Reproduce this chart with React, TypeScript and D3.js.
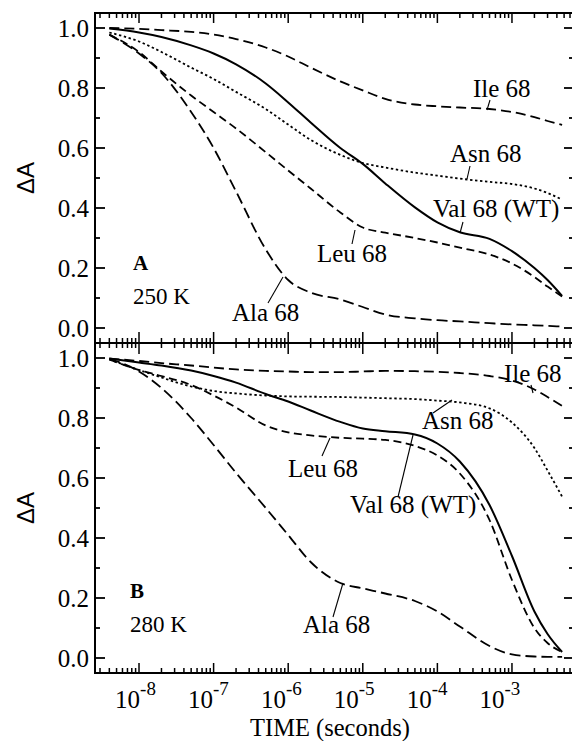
import React from 'react';
import * as d3 from 'd3';

// ---- data (time in seconds, ΔA) ----
const times = [4e-9, 1e-8, 2e-8, 5e-8, 1e-7, 2e-7, 5e-7, 1e-6, 2e-6, 5e-6, 1e-5, 2e-5, 5e-5, 1e-4, 2e-4, 5e-4, 1e-3, 2e-3, 3e-3, 4.7e-3];

// Panel A, 250 K
const ileA = [1.0, 0.997, 0.993, 0.987, 0.978, 0.963, 0.935, 0.905, 0.868, 0.822, 0.792, 0.764, 0.745, 0.739, 0.735, 0.73, 0.72, 0.703, 0.69, 0.677];
const asnA = [0.985, 0.955, 0.92, 0.868, 0.83, 0.787, 0.73, 0.678, 0.627, 0.577, 0.55, 0.535, 0.518, 0.508, 0.498, 0.487, 0.48, 0.465, 0.45, 0.428];
const valA = [0.998, 0.985, 0.97, 0.942, 0.915, 0.879, 0.815, 0.752, 0.685, 0.6, 0.547, 0.482, 0.402, 0.352, 0.319, 0.297, 0.256, 0.2, 0.16, 0.107];
const leuA = [0.978, 0.92, 0.855, 0.775, 0.72, 0.665, 0.586, 0.525, 0.465, 0.385, 0.335, 0.318, 0.3, 0.285, 0.268, 0.245, 0.215, 0.17, 0.138, 0.105];
const alaA = [0.978, 0.915, 0.85, 0.72, 0.6, 0.455, 0.262, 0.16, 0.118, 0.095, 0.07, 0.045, 0.032, 0.026, 0.022, 0.016, 0.012, 0.009, 0.007, 0.005];

// Panel B, 280 K
const ileB = [0.998, 0.99, 0.983, 0.975, 0.968, 0.962, 0.957, 0.955, 0.953, 0.953, 0.955, 0.957, 0.956, 0.954, 0.95, 0.94, 0.925, 0.895, 0.87, 0.84];
const asnB = [0.995, 0.96, 0.935, 0.905, 0.89, 0.882, 0.875, 0.872, 0.871, 0.87, 0.868, 0.866, 0.863, 0.858, 0.852, 0.832, 0.785, 0.7, 0.625, 0.538];
const valB = [0.998, 0.985, 0.975, 0.958, 0.94, 0.918, 0.88, 0.855, 0.825, 0.787, 0.765, 0.756, 0.745, 0.715, 0.655, 0.51, 0.34, 0.155, 0.08, 0.02];
const leuB = [0.995, 0.96, 0.94, 0.91, 0.875, 0.835, 0.775, 0.752, 0.742, 0.734, 0.731, 0.727, 0.707, 0.675, 0.615, 0.46, 0.26, 0.1, 0.05, 0.02];
const alaB = [0.998, 0.955, 0.9, 0.8, 0.71, 0.617, 0.5, 0.41, 0.32, 0.25, 0.232, 0.215, 0.19, 0.155, 0.105, 0.04, 0.012, 0.005, 0.004, 0.004];

const yTickValues = [0, 0.2, 0.4, 0.6, 0.8, 1.0];
const xLabelExponents = [-8, -7, -6, -5, -4, -3];

const seriesNames = ['Ile 68', 'Asn 68', 'Val 68 (WT)', 'Leu 68', 'Ala 68'];

// ---- styling ----
const dashes: Record<string, string | undefined> = {
  'Ile 68': '10,5',
  'Asn 68': '2.4,2.6',
  'Val 68 (WT)': undefined,
  'Leu 68': '8,4.5',
  'Ala 68': '11,5',
};

const W = 572, H = 741;
const X0 = 95, X1 = 573;
const SERIF = "'Liberation Serif', 'Times New Roman', Times, serif";
const SANS = "'Liberation Sans', Arial, sans-serif";

const x = d3.scaleLog().domain([2.57e-9, 6.58e-3]).range([X0, X1]);

type Label = { text: string; tx: number; ty: number; a: [number, number]; b: [number, number] };

const panels = [
  {
    top: 13, bottom: 343, letter: 'A', temp: '250 K', lx: 133, ly: 270,
    values: [ileA, asnA, valA, leuA, alaA],
    labels: [
      { text: 'Ile 68', tx: 473, ty: 97, a: [490, 100], b: [487, 110] },
      { text: 'Asn 68', tx: 450, ty: 162, a: [470, 166], b: [467, 179] },
      { text: 'Val 68 (WT)', tx: 433, ty: 217, a: [463, 222], b: [460, 233] },
      { text: 'Leu 68', tx: 317, ty: 262, a: [352, 244], b: [355, 230] },
      { text: 'Ala 68', tx: 232, ty: 321, a: [268, 303], b: [283, 277] },
    ] as Label[],
  },
  {
    top: 343, bottom: 673, letter: 'B', temp: '280 K', lx: 130, ly: 598,
    values: [ileB, asnB, valB, leuB, alaB],
    labels: [
      { text: 'Ile 68', tx: 504, ty: 382, a: [531, 385], b: [533, 393] },
      { text: 'Asn 68', tx: 422, ty: 429, a: [433, 413], b: [452, 400] },
      { text: 'Val 68 (WT)', tx: 350, ty: 513, a: [398, 497], b: [413, 435] },
      { text: 'Leu 68', tx: 288, ty: 477, a: [322, 456], b: [330, 438] },
      { text: 'Ala 68', tx: 303, ty: 633, a: [333, 617], b: [343, 583] },
    ] as Label[],
  },
];

export default function App() {
  const allTicks = x.ticks(10);
  const isMajor = (t: number) => Math.abs(Math.log10(t) - Math.round(Math.log10(t))) < 1e-6;
  const yMinor = d3.range(0, 11).map((i) => i / 10);
  const serif = { fontFamily: SERIF };

  return (
    <svg width={W} height={H} viewBox={`0 0 ${W} ${H}`}
      style={{ position: 'absolute', left: 0, top: 0, display: 'block', background: '#fff' }}>
      <rect x={0} y={0} width={W} height={H} fill="#fff" />
      {panels.map((p, pi) => {
        const y = d3.scaleLinear().domain([-0.05, 1.05]).range([p.bottom, p.top]);
        const line = d3.line<[number, number]>()
          .x((d) => x(d[0]))
          .y((d) => y(d[1]))
          .curve(d3.curveMonotoneX);
        return (
          <g key={pi}>
            {yMinor.map((v, i) => {
              const major = i % 2 === 0;
              const len = major ? 10 : 5;
              return (
                <g key={i} stroke="#000" strokeWidth={1.8}>
                  <line x1={X0} x2={X0 + len} y1={y(v)} y2={y(v)} />
                  <line x1={X1 - len + 1} x2={X1} y1={y(v)} y2={y(v)} />
                </g>
              );
            })}
            {yTickValues.map((v) => (
              <text key={v} x={89} y={y(v)} dy="0.36em" textAnchor="end"
                style={serif} fontSize={25} fill="#000">{v.toFixed(1)}</text>
            ))}
            <text transform={`translate(34,${(p.top + p.bottom) / 2}) rotate(-90)`}
              textAnchor="middle" style={{ fontFamily: SANS }} fontSize={24} fill="#000">ΔA</text>
            {p.values.map((vals, si) => {
              const name = seriesNames[si];
              const pts = times.map((t, i) => [t, vals[i]] as [number, number]);
              return (
                <path key={name} d={line(pts) || ''} fill="none" stroke="#000"
                  strokeWidth={name === 'Val 68 (WT)' ? 2 : 1.8}
                  strokeDasharray={dashes[name]} />
              );
            })}
            {p.labels.map((l) => (
              <g key={l.text}>
                <text x={l.tx} y={l.ty} style={serif} fontSize={25} fill="#000">{l.text}</text>
                <line x1={l.a[0]} y1={l.a[1]} x2={l.b[0]} y2={l.b[1]} stroke="#000" strokeWidth={1.1} />
              </g>
            ))}
            <text x={p.lx} y={p.ly} style={serif} fontSize={21} fontWeight="bold" fill="#000">{p.letter}</text>
            <text x={p.lx} y={p.ly + 34} style={serif} fontSize={23} fill="#000">{p.temp}</text>
          </g>
        );
      })}

      <g stroke="#000" strokeWidth={2} fill="none">
        <line x1={X0} x2={X1} y1={13} y2={13} />
        <line x1={X0} x2={X1} y1={343} y2={343} />
        <line x1={X0} x2={X1} y1={673} y2={673} />
        <line x1={X0} x2={X0} y1={12} y2={674} />
        <line x1={X1} x2={X1} y1={12} y2={674} />
      </g>
      <g stroke="#000" strokeWidth={1.5}>
        {allTicks.map((t, i) => {
          const xx = x(t);
          const major = isMajor(t);
          const len = major ? 10 : 5;
          return (
            <g key={i}>
              <line x1={xx} x2={xx} y1={13} y2={13 + len} />
              <line x1={xx} x2={xx} y1={343 - (major ? 11 : 5)} y2={343 + (major ? 11 : 5)} />
              <line x1={xx} x2={xx} y1={673} y2={673 - len} />
            </g>
          );
        })}
      </g>
      {xLabelExponents.map((e) => (
        <text key={e} x={x(Math.pow(10, e)) - 3.5 - (e + 8) * 1.7} y={708} textAnchor="middle"
          style={serif} fontSize={25} fill="#000">
          <tspan>10</tspan>
          <tspan dy={-13} fontSize={19}>{`-${-e}`}</tspan>
        </text>
      ))}
      <text x={330} y={736} textAnchor="middle" style={serif} fontSize={24.5} fill="#000">TIME (seconds)</text>
    </svg>
  );
}
